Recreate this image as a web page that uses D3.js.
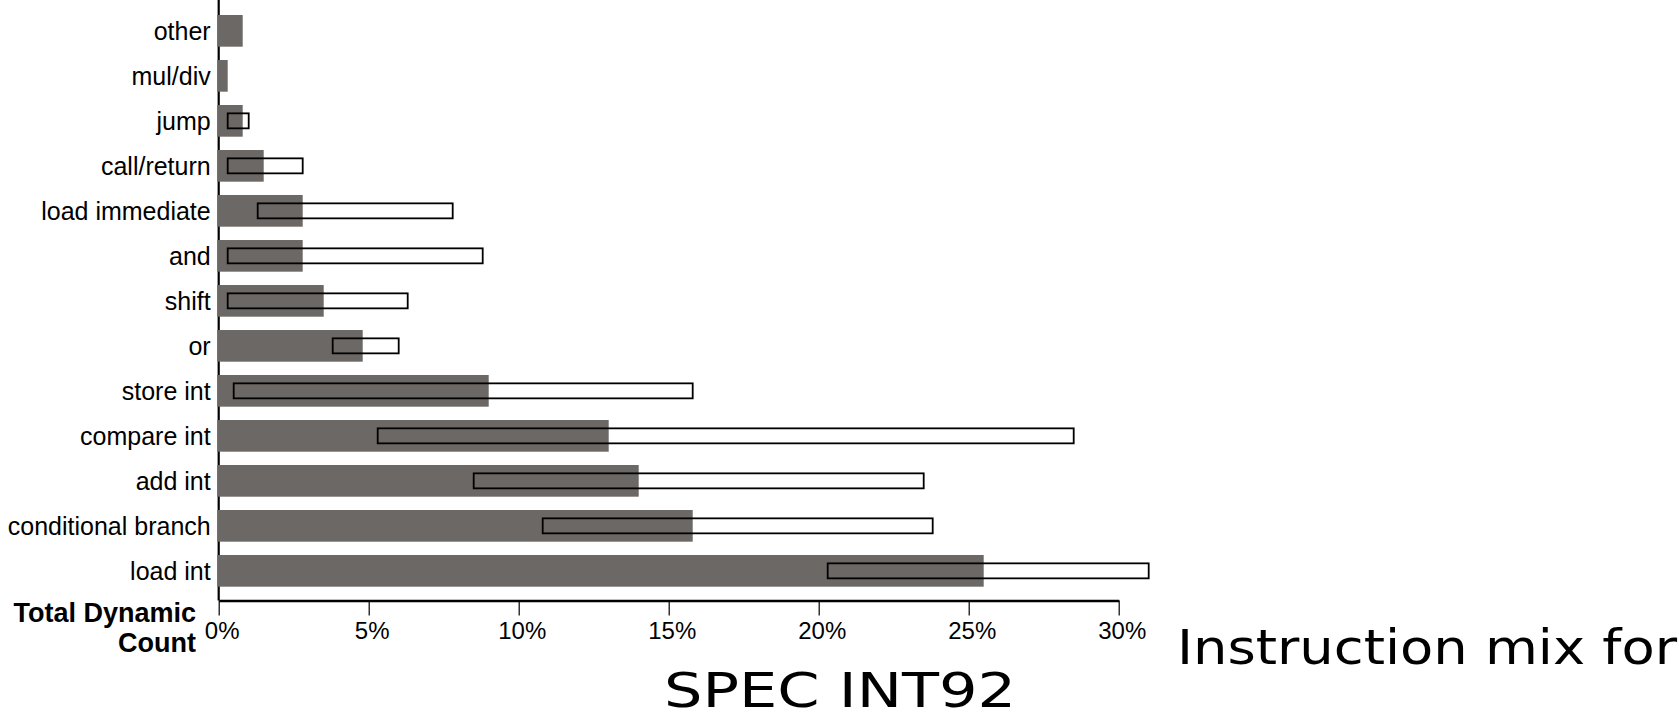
<!DOCTYPE html>
<html>
<head>
<meta charset="utf-8">
<script src="https://cdn.jsdelivr.net/npm/d3@7"></script>
<style>
    html, body { margin: 0; padding: 0; background: #fff; }
    svg { display: block; }
</style>
</head>
<body>
<div id="chart"></div>
<script>
// Instruction mix for SPEC INT92 - average share (gray bar) and range (outlined box)

const categories = ['other', 'mul/div', 'jump', 'call/return', 'load immediate', 'and', 'shift',
    'or', 'store int', 'compare int', 'add int', 'conditional branch', 'load int'];
const avgValues = [0.8, 0.3, 0.8, 1.5, 2.8, 2.8, 3.5, 4.8, 9.0, 13.0, 14.0, 15.8, 25.5];
const minValues = [null, null, 0.3, 0.3, 1.3, 0.3, 0.3, 3.8, 0.5, 5.3, 8.5, 10.8, 20.3];
const maxValues = [null, null, 1.0, 2.8, 7.8, 8.8, 6.3, 6.0, 15.8, 28.5, 23.5, 23.8, 31.0];
const tickValues = [0, 5, 10, 15, 20, 25, 30];

const data = categories.map((c, i) => ({
    name: c,
    avg: avgValues[i],
    min: minValues[i],
    max: maxValues[i]
}));

const W = 1679, H = 716;
const axisY = 600.5;

const svg = d3.select('#chart')
    .append('svg')
    .attr('width', W)
    .attr('height', H);

const x = d3.scaleLinear()
    .domain([0, 30])
    .range([218.7, 1118.7]);

const y = d3.scaleBand()
    .domain(categories)
    .range([8.35, 593.35])
    .paddingInner(0.296)
    .paddingOuter(0.148);

const labelFont = "'Liberation Sans', Arial, Helvetica, sans-serif";

// vertical axis line
svg.append('line')
    .attr('x1', x(0)).attr('x2', x(0))
    .attr('y1', 0).attr('y2', axisY)
    .attr('stroke', '#000')
    .attr('stroke-width', 2.2);

// bottom axis
const xAxis = svg.append('g')
    .attr('transform', `translate(0,${axisY})`)
    .call(d3.axisBottom(x)
        .tickValues(tickValues)
        .tickSize(15)
        .tickSizeOuter(0)
        .tickFormat(d => d + '%'));

xAxis.select('.domain')
    .attr('stroke', '#000')
    .attr('stroke-width', 2.4);

xAxis.selectAll('.tick line')
    .attr('stroke', '#000')
    .attr('stroke-width', 1.2);

xAxis.selectAll('.tick text')
    .attr('x', 3)
    .attr('y', 38.5)
    .attr('dy', 0)
    .attr('fill', '#000')
    .style('font-family', labelFont)
    .style('font-size', '24px');

// category labels
const yAxis = svg.append('g')
    .attr('transform', `translate(${x(0)},0)`)
    .call(d3.axisLeft(y).tickSize(0).tickPadding(8));

yAxis.select('.domain').remove();
yAxis.selectAll('.tick text')
    .attr('fill', '#000')
    .attr('dy', '0.35em')
    .style('font-family', labelFont)
    .style('font-size', '25px');

// average bars
svg.append('g')
    .selectAll('rect')
    .data(data)
    .enter()
    .append('rect')
    .attr('x', x(0) - 1.5)
    .attr('y', d => y(d.name))
    .attr('width', d => x(d.avg) - x(0) + 1.5)
    .attr('height', y.bandwidth())
    .attr('fill', '#6c6866');

// range boxes
const boxH = 15;
svg.append('g')
    .selectAll('rect')
    .data(data.filter(d => d.min !== null))
    .enter()
    .append('rect')
    .attr('x', d => x(d.min))
    .attr('y', d => y(d.name) + y.bandwidth() / 2 - boxH / 2)
    .attr('width', d => x(d.max) - x(d.min))
    .attr('height', boxH)
    .attr('fill', 'none')
    .attr('stroke', '#000')
    .attr('stroke-width', 1.8);

// axis title
const axisTitle = svg.append('text')
    .attr('text-anchor', 'end')
    .style('font-family', labelFont)
    .style('font-size', '27px')
    .style('font-weight', 'bold')
    .attr('fill', '#000');

axisTitle.append('tspan').attr('x', 196).attr('y', 622).text('Total Dynamic');
axisTitle.append('tspan').attr('x', 196).attr('y', 652).text('Count');

// caption
const captionFont = "'DejaVu Sans', Verdana, sans-serif";

svg.append('text')
    .attr('x', 1177)
    .attr('y', 664)
    .attr('textLength', 500)
    .attr('lengthAdjust', 'spacingAndGlyphs')
    .style('font-family', captionFont)
    .style('font-size', '48px')
    .attr('fill', '#000')
    .text('Instruction mix for');

svg.append('text')
    .attr('x', 664)
    .attr('y', 707)
    .attr('textLength', 352)
    .attr('lengthAdjust', 'spacingAndGlyphs')
    .style('font-family', captionFont)
    .style('font-size', '48px')
    .attr('fill', '#000')
    .text('SPEC INT92');
</script>
</body>
</html>
